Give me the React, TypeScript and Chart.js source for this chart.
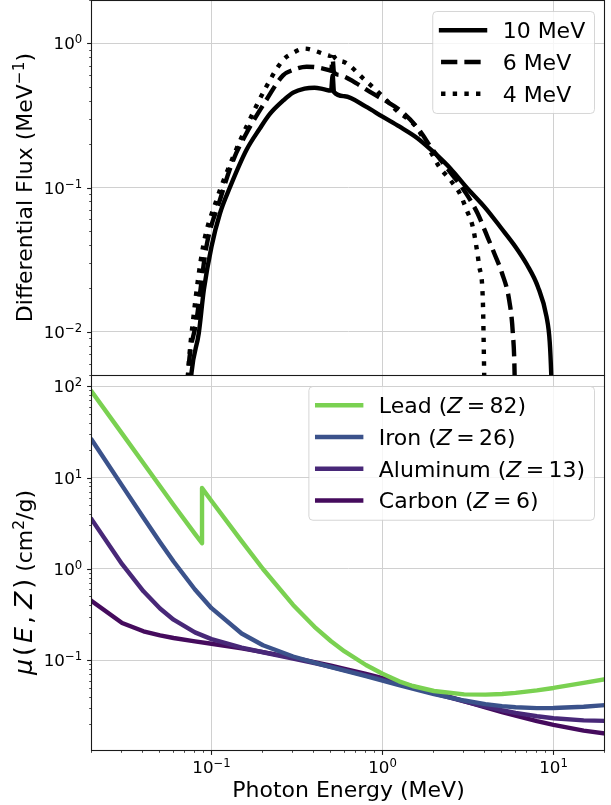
import React, { useEffect, useRef } from 'react';
import { Chart, registerables } from 'chart.js';

Chart.register(...registerables);

const FONT = '"DejaVu Sans", "Liberation Sans", sans-serif';

// ---------- Axis ranges and tick exponents ----------
const X_MIN = 0.02;
const X_MAX = 20;
const TOP_Y_MIN = 0.005;
const TOP_Y_MAX = 2;
const BOTTOM_Y_MIN = 0.0104;
const BOTTOM_Y_MAX = 133;
const X_TICK_EXPONENTS = [-1, 0, 1];
const TOP_Y_TICK_EXPONENTS = [-2, -1, 0];
const BOTTOM_Y_TICK_EXPONENTS = [-1, 0, 1, 2];

// ---------- Top panel: photon spectra (MeV^-1) ----------
const SPECTRUM_LABELS = ['10 MeV', '6 MeV', '4 MeV'];

const SPEC10_E = [0.0752, 0.0764, 0.0843, 0.0902, 0.1, 0.112, 0.128, 0.16, 0.191, 0.22, 0.262, 0.3, 0.35, 0.4, 0.45, 0.5, 0.511, 0.52, 0.6, 0.8, 1.0, 1.26, 1.6, 2.0, 2.5, 3.1, 4.0, 4.9, 6.0, 7.0, 8.1, 9.1, 9.5, 9.7, 9.9];
const SPEC10_F = [0.004, 0.0052, 0.0098, 0.0195, 0.039, 0.066, 0.1, 0.182, 0.255, 0.325, 0.4, 0.455, 0.485, 0.492, 0.482, 0.47, 0.6, 0.46, 0.43, 0.364, 0.31, 0.264, 0.22, 0.175, 0.135, 0.1, 0.072, 0.053, 0.0387, 0.0291, 0.0205, 0.0127, 0.0085, 0.005, 0.002];

const SPEC6_E = [0.0722, 0.073, 0.0817, 0.0934, 0.112, 0.134, 0.16, 0.209, 0.262, 0.3, 0.36, 0.42, 0.48, 0.5, 0.511, 0.52, 0.56, 0.7, 0.84, 1.1, 1.26, 1.6, 1.97, 2.5, 3.08, 3.6, 4.03, 4.5, 5.0, 5.5, 5.78, 5.92, 5.98];
const SPEC6_F = [0.004, 0.0052, 0.012, 0.039, 0.082, 0.155, 0.238, 0.404, 0.6, 0.655, 0.689, 0.68, 0.655, 0.645, 0.77, 0.63, 0.603, 0.53, 0.462, 0.384, 0.345, 0.26, 0.182, 0.127, 0.091, 0.066, 0.048, 0.035, 0.0254, 0.0166, 0.0098, 0.0051, 0.002];

const SPEC4_E = [0.0722, 0.073, 0.078, 0.0893, 0.107, 0.134, 0.16, 0.209, 0.262, 0.3, 0.35, 0.4, 0.448, 0.5, 0.511, 0.52, 0.6, 0.77, 1.0, 1.2, 1.57, 1.85, 2.15, 2.5, 2.83, 3.1, 3.37, 3.55, 3.68, 3.86, 3.93, 3.98];
const SPEC4_F = [0.004, 0.0052, 0.012, 0.039, 0.082, 0.164, 0.264, 0.5, 0.766, 0.86, 0.92, 0.89, 0.85, 0.82, 0.88, 0.81, 0.74, 0.572, 0.43, 0.345, 0.264, 0.19, 0.139, 0.112, 0.091, 0.07, 0.0535, 0.038, 0.0283, 0.0166, 0.0052, 0.002];

// ---------- Bottom panel: mass attenuation coefficients (cm^2/g) ----------
const MATERIAL_NAMES = ['Lead', 'Iron', 'Aluminum', 'Carbon'];
const MATERIAL_Z = [82, 26, 13, 6];
const MATERIAL_COLORS = ['#7ad151', '#3b528b', '#482878', '#450b5d'];

const LEAD_E = [0.02, 0.03, 0.04, 0.05, 0.06, 0.08, 0.088, 0.088, 0.1, 0.15, 0.2, 0.3, 0.4, 0.5, 0.6, 0.8, 1, 1.25, 1.5, 2, 3, 4, 5, 6, 8, 10, 15, 20];
const LEAD_MU = [86.36, 30.32, 14.36, 8.041, 5.021, 2.419, 1.91, 7.683, 5.549, 2.014, 0.9985, 0.4031, 0.2323, 0.1614, 0.1248, 0.0887, 0.07102, 0.05876, 0.05222, 0.04606, 0.04234, 0.04197, 0.04272, 0.04391, 0.04675, 0.04972, 0.05658, 0.06206];

const ENERGY = [0.02, 0.03, 0.04, 0.05, 0.06, 0.08, 0.1, 0.15, 0.2, 0.3, 0.4, 0.5, 0.6, 0.8, 1, 1.25, 1.5, 2, 3, 4, 5, 6, 8, 10, 15, 20];
const IRON_MU = [25.68, 8.176, 3.629, 1.958, 1.205, 0.5952, 0.3717, 0.1964, 0.146, 0.1099, 0.094, 0.08414, 0.07704, 0.06699, 0.05995, 0.0535, 0.04883, 0.04265, 0.03621, 0.03312, 0.03146, 0.03057, 0.02991, 0.02994, 0.03092, 0.03224];
const ALUMINUM_MU = [3.441, 1.128, 0.5685, 0.3681, 0.2778, 0.2018, 0.1704, 0.1378, 0.1223, 0.1042, 0.09276, 0.08445, 0.07802, 0.06841, 0.06146, 0.05496, 0.05006, 0.04324, 0.03541, 0.03106, 0.02836, 0.02655, 0.02437, 0.02318, 0.02195, 0.02168];
const CARBON_MU = [0.442, 0.2562, 0.2076, 0.1871, 0.1753, 0.161, 0.1514, 0.1347, 0.1229, 0.1066, 0.09546, 0.08715, 0.08058, 0.07076, 0.06361, 0.0569, 0.05179, 0.04442, 0.03562, 0.03047, 0.02708, 0.02469, 0.02154, 0.01959, 0.01698, 0.01575];

// ---------- Text labels ----------
const X_TITLE = 'Photon Energy (MeV)';

type Seg = { t: string; it?: boolean; sup?: boolean; gap?: number; scale?: number };

const TOP_Y_TITLE: Seg[] = [{ t: 'Differential Flux (MeV' }, { t: '\u22121', sup: true }, { t: ')' }];
const MS = 1.15;
const BOTTOM_Y_TITLE: Seg[] = [
  { t: '\u03bc', it: true, scale: MS, gap: 3 }, { t: '(', scale: MS, gap: 3 }, { t: 'E', it: true, scale: MS, gap: 3 },
  { t: ',', scale: MS, gap: 7 }, { t: 'Z', it: true, scale: MS, gap: 3 }, { t: ')', scale: MS },
  { t: ' (cm' }, { t: '2', sup: true }, { t: '/g)' },
];

// ---------- Style constants ----------
const LW = 4.4;
const TICK_FS = 16.7;
const LABEL_FS = 22;
const LEGEND_FS = 22;
const GRID_COLOR = '#d0d0d0';
const FRAME_COLOR = '#1a1a1a';

function fontFor(seg: Seg, size: number) {
  const s = (seg.sup ? size * 0.7 : size) * (seg.scale || 1);
  return `${seg.it ? 'italic ' : ''}${s}px ${FONT}`;
}
function segsWidth(ctx: CanvasRenderingContext2D, segs: Seg[], size: number) {
  let w = 0;
  for (const s of segs) {
    ctx.font = fontFor(s, size);
    w += ctx.measureText(s.t).width + (s.gap || 0);
  }
  return w;
}
function drawSegs(ctx: CanvasRenderingContext2D, segs: Seg[], x: number, y: number, size: number) {
  let cx = x;
  ctx.textAlign = 'left';
  ctx.textBaseline = 'alphabetic';
  for (const s of segs) {
    ctx.font = fontFor(s, size);
    ctx.fillText(s.t, cx, s.sup ? y - size * 0.36 : y);
    cx += ctx.measureText(s.t).width + (s.gap || 0);
  }
}
function pow10Segs(exp: number): Seg[] {
  return [{ t: '10' }, { t: exp < 0 ? '\u2212' + Math.abs(exp) : String(exp), sup: true }];
}
function labelSegs(label: string): Seg[] {
  return label
    .replace(/ = /g, '\u2009=\u2009')
    .split(/(Z)/)
    .filter((p) => p.length > 0)
    .map((p) => (p === 'Z' ? { t: p, it: true } : { t: p }));
}
function isPow10(v: number) {
  if (!(v > 0)) return false;
  const l = Math.log10(v);
  return Math.abs(l - Math.round(l)) < 1e-9;
}
function isLogTick(v: number) {
  if (!(v > 0)) return false;
  const e = Math.floor(Math.log10(v) + 1e-9);
  const s = v / Math.pow(10, e);
  return Math.abs(s - Math.round(s)) < 1e-6;
}

function pts(xs: number[], ys: number[]) {
  return xs.map((x, i) => ({ x, y: ys[i] }));
}

function drawLegend(chart: any) {
  const ctx: CanvasRenderingContext2D = chart.ctx;
  const a = chart.chartArea;
  const ds = chart.data.datasets;
  const em = LEGEND_FS;
  const borderPad = 0.4 * em;
  const handleLen = 2 * em;
  const handlePad = 0.8 * em;
  const spacing = 0.5 * em;
  const textH = 0.945 * em;
  let maxW = 0;
  ds.forEach((d: any) => {
    maxW = Math.max(maxW, segsWidth(ctx, labelSegs(d.label), em));
  });
  const w = borderPad + handleLen + handlePad + maxW + borderPad;
  const h = 2 * borderPad + ds.length * textH + (ds.length - 1) * spacing;
  const right = a.right - 0.5 * em;
  const top = a.top + 0.5 * em;
  const left = right - w;
  ctx.save();
  ctx.beginPath();
  if ((ctx as any).roundRect) (ctx as any).roundRect(left + 0.5, top + 0.5, w, h, 4);
  else ctx.rect(left + 0.5, top + 0.5, w, h);
  ctx.fillStyle = 'rgba(255,255,255,0.8)';
  ctx.fill();
  ctx.strokeStyle = 'rgba(204,204,204,0.8)';
  ctx.lineWidth = 1;
  ctx.stroke();
  ds.forEach((d: any, i: number) => {
    const cy = top + borderPad + textH / 2 + i * (textH + spacing);
    ctx.beginPath();
    ctx.setLineDash(d.borderDash || []);
    ctx.lineDashOffset = 0;
    ctx.lineCap = d.borderCapStyle || 'butt';
    ctx.lineWidth = d.borderWidth;
    ctx.strokeStyle = d.borderColor;
    ctx.moveTo(left + borderPad, cy);
    ctx.lineTo(left + borderPad + handleLen, cy);
    ctx.stroke();
    ctx.setLineDash([]);
    ctx.fillStyle = '#000';
    drawSegs(ctx, labelSegs(d.label), left + borderPad + handleLen + handlePad, cy + 0.36 * em, em);
  });
  ctx.restore();
}

function makeDecor(cfg: {
  yExps: number[];
  xExps: number[] | null;
  yTitle: Seg[];
  yTitleCenterOffset: number;
  xTitle: string | null;
}) {
  return {
    id: 'decor',
    afterDraw(chart: any) {
      const ctx: CanvasRenderingContext2D = chart.ctx;
      const a = chart.chartArea;
      const xs = chart.scales.x;
      const ys = chart.scales.y;
      ctx.save();
      // ticks
      ctx.strokeStyle = FRAME_COLOR;
      ys.ticks.forEach((t: any) => {
        if (!isLogTick(t.value)) return;
        const major = isPow10(t.value);
        const py = Math.round(ys.getPixelForValue(t.value)) + 0.5;
        if (py < a.top - 1 || py > a.bottom + 1) return;
        ctx.lineWidth = major ? 1.1 : 0.8;
        ctx.beginPath();
        ctx.moveTo(a.left, py);
        ctx.lineTo(a.left - (major ? 4.9 : 2.8), py);
        ctx.stroke();
      });
      if (cfg.xExps) {
        xs.ticks.forEach((t: any) => {
          if (!isLogTick(t.value)) return;
          const major = isPow10(t.value);
          const px = Math.round(xs.getPixelForValue(t.value)) - 0.5;
          ctx.lineWidth = major ? 1.1 : 0.8;
          ctx.beginPath();
          ctx.moveTo(px, a.bottom);
          ctx.lineTo(px, a.bottom + (major ? 4.9 : 2.8));
          ctx.stroke();
        });
      }
      // frame
      ctx.lineWidth = 1.1;
      ctx.strokeStyle = FRAME_COLOR;
      ctx.strokeRect(a.left - 0.5, a.top + 0.5, a.right - a.left, a.bottom - a.top);
      // y tick labels
      ctx.fillStyle = '#000';
      cfg.yExps.forEach((e) => {
        const segs = pow10Segs(e);
        const w = segsWidth(ctx, segs, TICK_FS);
        const py = ys.getPixelForValue(Math.pow(10, e));
        drawSegs(ctx, segs, a.left - 9.8 - w, py + 0.729 * TICK_FS / 2, TICK_FS);
      });
      // x tick labels
      if (cfg.xExps) {
        cfg.xExps.forEach((e) => {
          const segs = pow10Segs(e);
          const w = segsWidth(ctx, segs, TICK_FS);
          const px = xs.getPixelForValue(Math.pow(10, e));
          drawSegs(ctx, segs, px - w / 2, a.bottom + 22.7, TICK_FS);
        });
      }
      // x title
      if (cfg.xTitle) {
        const segs: Seg[] = [{ t: cfg.xTitle }];
        const w = segsWidth(ctx, segs, LABEL_FS);
        drawSegs(ctx, segs, (a.left + a.right) / 2 - w / 2, a.bottom + 47, LABEL_FS);
      }
      // y title (rotated)
      {
        const w = segsWidth(ctx, cfg.yTitle, LABEL_FS);
        ctx.save();
        ctx.translate(31.5, (a.top + a.bottom) / 2 + cfg.yTitleCenterOffset);
        ctx.rotate(-Math.PI / 2);
        drawSegs(ctx, cfg.yTitle, -w / 2, 0, LABEL_FS);
        ctx.restore();
      }
      ctx.restore();
      drawLegend(chart);
    },
  };
}

function logAxis(min: number, max: number, horizontal: boolean) {
  return {
    type: 'logarithmic',
    min,
    max,
    ticks: { display: false },
    grid: {
      drawTicks: false,
      lineWidth: 1,
      color: (c: any) => (c.tick && isPow10(c.tick.value) ? GRID_COLOR : 'rgba(0,0,0,0)'),
    },
    border: { display: false },
    afterFit: (s: any) => {
      if (horizontal) s.height = 0;
      else s.width = 0;
    },
  };
}

export default function App() {
  const topRef = useRef<HTMLCanvasElement>(null);
  const botRef = useRef<HTMLCanvasElement>(null);

  useEffect(() => {
    const spectra = [
      { e: SPEC10_E, f: SPEC10_F, dash: [] as number[], cap: 'square' },
      { e: SPEC6_E, f: SPEC6_F, dash: [3.7 * LW, 1.6 * LW], cap: 'butt' },
      { e: SPEC4_E, f: SPEC4_F, dash: [LW, 1.65 * LW], cap: 'butt' },
    ];
    const top = new Chart(topRef.current as HTMLCanvasElement, {
      type: 'line',
      data: {
        datasets: spectra.map((s, i) => ({
          label: SPECTRUM_LABELS[i],
          data: pts(s.e, s.f),
          borderColor: '#000000',
          borderWidth: LW,
          borderDash: s.dash,
          borderCapStyle: s.cap,
          borderJoinStyle: 'round',
          pointRadius: 0,
          fill: false,
          cubicInterpolationMode: 'monotone',
          clip: 0,
        })),
      } as any,
      options: {
        animation: false,
        responsive: false,
        devicePixelRatio: 1,
        events: [],
        layout: { padding: { left: 92, right: 6, top: 0, bottom: 1 } },
        plugins: { legend: { display: false }, tooltip: { enabled: false } },
        scales: {
          x: logAxis(X_MIN, X_MAX, true),
          y: logAxis(TOP_Y_MIN, TOP_Y_MAX, false),
        } as any,
      },
      plugins: [
        makeDecor({ yExps: TOP_Y_TICK_EXPONENTS, xExps: null, yTitle: TOP_Y_TITLE, yTitleCenterOffset: 0, xTitle: null }),
      ],
    });

    const series = [
      { e: LEAD_E, mu: LEAD_MU },
      { e: ENERGY, mu: IRON_MU },
      { e: ENERGY, mu: ALUMINUM_MU },
      { e: ENERGY, mu: CARBON_MU },
    ];
    const bot = new Chart(botRef.current as HTMLCanvasElement, {
      type: 'line',
      data: {
        datasets: series.map((s, i) => ({
          label: `${MATERIAL_NAMES[i]} (Z = ${MATERIAL_Z[i]})`,
          data: pts(s.e, s.mu),
          borderColor: MATERIAL_COLORS[i],
          borderWidth: LW,
          borderCapStyle: 'square',
          borderJoinStyle: 'round',
          pointRadius: 0,
          fill: false,
          tension: 0,
          clip: 0,
        })),
      } as any,
      options: {
        animation: false,
        responsive: false,
        devicePixelRatio: 1,
        events: [],
        layout: { padding: { left: 92, right: 6, top: 0, bottom: 55 } },
        plugins: { legend: { display: false }, tooltip: { enabled: false } },
        scales: {
          x: logAxis(X_MIN, X_MAX, true),
          y: logAxis(BOTTOM_Y_MIN, BOTTOM_Y_MAX, false),
        } as any,
      },
      plugins: [
        makeDecor({ yExps: BOTTOM_Y_TICK_EXPONENTS, xExps: X_TICK_EXPONENTS, yTitle: BOTTOM_Y_TITLE, yTitleCenterOffset: 20, xTitle: X_TITLE }),
      ],
    });

    return () => {
      top.destroy();
      bot.destroy();
    };
  }, []);

  return (
    <div style={{ position: 'absolute', left: 0, top: 0, width: 611, height: 805, background: '#ffffff' }}>
      <canvas
        ref={topRef}
        width={611}
        height={376}
        style={{ position: 'absolute', left: 0, top: 0, width: 611, height: 376 }}
      />
      <canvas
        ref={botRef}
        width={611}
        height={430}
        style={{ position: 'absolute', left: 0, top: 375, width: 611, height: 430 }}
      />
    </div>
  );
}
